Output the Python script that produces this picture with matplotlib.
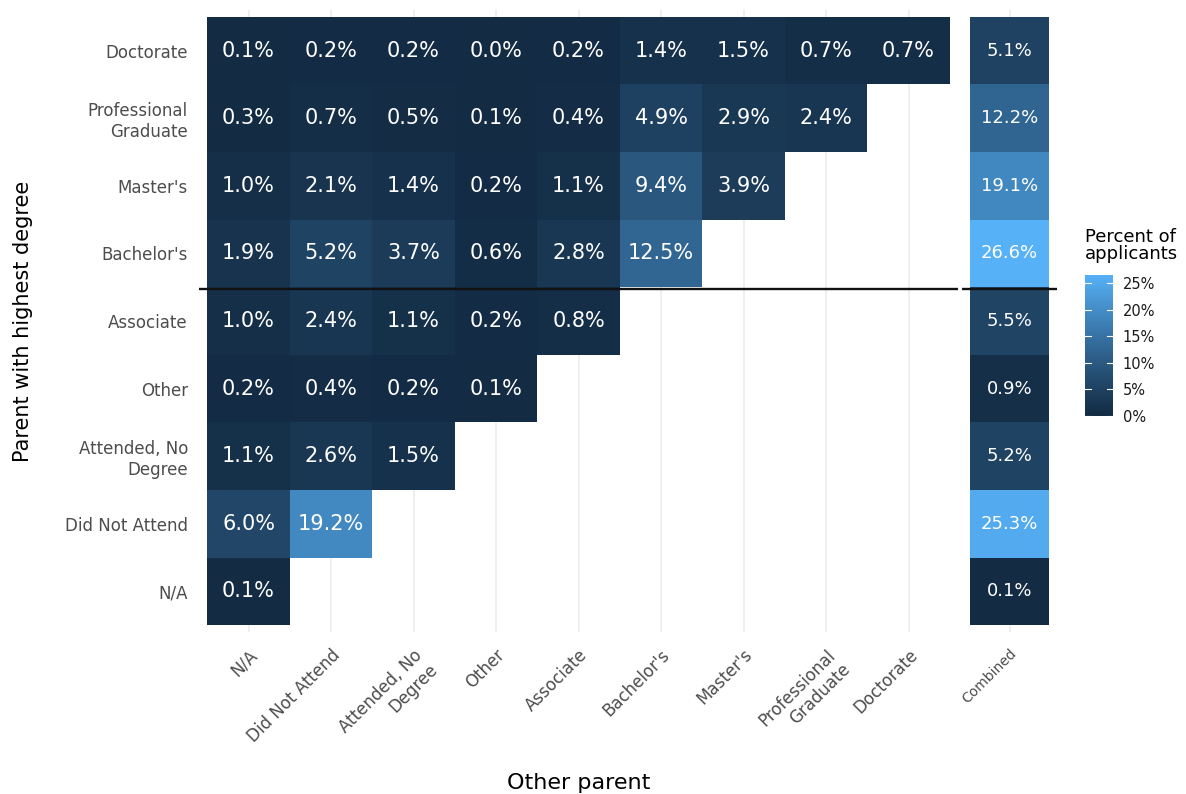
import numpy as np
import matplotlib
matplotlib.use("Agg")
import matplotlib.pyplot as plt
from matplotlib.colors import ListedColormap, Normalize

# categories (bottom to top on the y axis, left to right on the x axis)
categories = ["N/A", "Did Not Attend", "Attended, No\nDegree", "Other", "Associate",
              "Bachelor's", "Master's", "Professional\nGraduate", "Doctorate"]

# percent of applicants, one list per "parent with highest degree" row
row_na = [0.1]
row_dna = [6.0, 19.2]
row_attended = [1.1, 2.6, 1.5]
row_other = [0.2, 0.4, 0.2, 0.1]
row_associate = [1.0, 2.4, 1.1, 0.2, 0.8]
row_bachelor = [1.9, 5.2, 3.7, 0.6, 2.8, 12.5]
row_master = [1.0, 2.1, 1.4, 0.2, 1.1, 9.4, 3.9]
row_prof = [0.3, 0.7, 0.5, 0.1, 0.4, 4.9, 2.9, 2.4]
row_doctorate = [0.1, 0.2, 0.2, 0.0, 0.2, 1.4, 1.5, 0.7, 0.7]
combined = [0.1, 25.3, 5.2, 0.9, 5.5, 26.6, 19.1, 12.2, 5.1]

rows = [row_na, row_dna, row_attended, row_other, row_associate,
        row_bachelor, row_master, row_prof, row_doctorate]

colorbar_ticks = [0, 5, 10, 15, 20, 25]


# ggplot-like gradient #132B43 -> #56B1F7 interpolated in CIELAB
def _srgb_to_lab(rgb):
    rgb = np.asarray(rgb, float)
    lin = np.where(rgb <= 0.04045, rgb / 12.92, ((rgb + 0.055) / 1.055) ** 2.4)
    m = np.array([[0.4124, 0.3576, 0.1805],
                  [0.2126, 0.7152, 0.0722],
                  [0.0193, 0.1192, 0.9505]])
    xyz = m @ lin / np.array([0.95047, 1.0, 1.08883])
    f = np.where(xyz > 0.008856, np.cbrt(xyz), 7.787 * xyz + 16 / 116)
    return np.array([116 * f[1] - 16, 500 * (f[0] - f[1]), 200 * (f[1] - f[2])])


def _lab_to_srgb(lab):
    L, a, b = lab
    fy = (L + 16) / 116
    fx = fy + a / 500
    fz = fy - b / 200
    f = np.array([fx, fy, fz])
    xyz = np.where(f ** 3 > 0.008856, f ** 3, (f - 16 / 116) / 7.787)
    xyz = xyz * np.array([0.95047, 1.0, 1.08883])
    minv = np.array([[3.2406, -1.5372, -0.4986],
                     [-0.9689, 1.8758, 0.0415],
                     [0.0557, -0.2040, 1.0570]])
    lin = minv @ xyz
    lin = np.clip(lin, 0, 1)
    rgb = np.where(lin <= 0.0031308, 12.92 * lin, 1.055 * lin ** (1 / 2.4) - 0.055)
    return np.clip(rgb, 0, 1)


def _hex(h):
    h = h.lstrip("#")
    return np.array([int(h[i:i + 2], 16) / 255 for i in (0, 2, 4)])


lab_lo = _srgb_to_lab(_hex("#132B43"))
lab_hi = _srgb_to_lab(_hex("#56B1F7"))
cmap = ListedColormap([_lab_to_srgb(lab_lo + t * (lab_hi - lab_lo))
                       for t in np.linspace(0, 1, 256)])

vmax = max(max(max(r) for r in rows), max(combined))
norm = Normalize(vmin=0, vmax=vmax)

n = len(categories)
mat = np.full((n, n), np.nan)
for i, r in enumerate(rows):
    mat[i, :len(r)] = r
mat = np.ma.masked_invalid(mat)

AXIS_GREY = "#4D4D4D"
SPLIT_Y = 4.47  # line between Bachelor's and Associate rows
plt.rcParams["font.family"] = "DejaVu Sans"

fig = plt.figure(figsize=(11.86, 7.94), dpi=100)
fig.patch.set_facecolor("white")

ax = fig.add_axes([199 / 1186, 1 - 632 / 794, 759 / 1186, 622 / 794])
axc = fig.add_axes([962 / 1186, 1 - 632 / 794, 95 / 1186, 622 / 794])
cax = fig.add_axes([1085 / 1186, 1 - 416 / 794, 28 / 1186, 141 / 794])

edges = np.arange(n + 1) - 0.5
ax.pcolormesh(edges, edges, mat, cmap=cmap, norm=norm, zorder=2)
for i, r in enumerate(rows):
    for j, v in enumerate(r):
        ax.text(j, i, f"{v:.1f}%", ha="center", va="center", color="white",
                fontsize=15, zorder=3)
ax.axhline(SPLIT_Y, color="#111111", lw=1.7, zorder=4)
ax.set_xlim(-0.6, n - 0.4)
ax.set_ylim(-0.6, n - 0.4)
ax.set_xticks(range(n))
ax.set_xticklabels(categories, rotation=45, ha="right", va="top",
                   rotation_mode="anchor", color=AXIS_GREY, fontsize=12)
ax.set_yticks(range(n))
ax.set_yticklabels(categories, color=AXIS_GREY, fontsize=12)
ax.tick_params(length=0, pad=8)
ax.tick_params(axis="x", pad=10)
ax.set_axisbelow(True)
ax.grid(axis="x", color="#EBEBEB", lw=1.1, zorder=0)
ax.set_xlabel("Other parent", fontsize=16, labelpad=16)
ax.set_ylabel("Parent with highest degree", fontsize=15, labelpad=23)

# combined panel
comb = np.array(combined).reshape(n, 1)
axc.pcolormesh([-0.5, 0.5], edges, comb, cmap=cmap, norm=norm, zorder=2)
for i, v in enumerate(combined):
    axc.text(0, i, f"{v:.1f}%", ha="center", va="center", color="white",
             fontsize=13, zorder=3)
axc.axhline(SPLIT_Y, color="#111111", lw=1.7, zorder=4)
axc.set_xlim(-0.6, 0.6)
axc.set_ylim(-0.6, n - 0.4)
axc.set_xticks([0])
axc.set_xticklabels(["Combined"], rotation=45, ha="right", va="top",
                    rotation_mode="anchor", color=AXIS_GREY, fontsize=10)
axc.set_yticks([])
axc.tick_params(length=0, pad=10)
axc.set_axisbelow(True)
axc.grid(axis="x", color="#EBEBEB", lw=1.1, zorder=0)

for a in (ax, axc):
    for s in a.spines.values():
        s.set_visible(False)

# colour bar
grad = np.linspace(0, vmax, 256).reshape(-1, 1)
cax.imshow(grad, cmap=cmap, norm=norm, aspect="auto", origin="lower",
           extent=[0, 1, 0, vmax])
for t in colorbar_ticks:
    cax.plot([0, 0.2], [t, t], color="white", lw=0.8)
    cax.plot([0.8, 1], [t, t], color="white", lw=0.8)
cax.set_xlim(0, 1)
cax.set_ylim(0, vmax)
cax.set_xticks([])
cax.yaxis.tick_right()
cax.set_yticks(colorbar_ticks)
cax.set_yticklabels([f"{t}%" for t in colorbar_ticks], fontsize=10.5, color="#1a1a1a")
cax.tick_params(length=0, pad=7)
for s in cax.spines.values():
    s.set_visible(False)
fig.text(1085 / 1186, 1 - 228 / 794, "Percent of\napplicants", ha="left", va="top",
         fontsize=13, linespacing=0.95)

fig.savefig("out.png", dpi=100)
